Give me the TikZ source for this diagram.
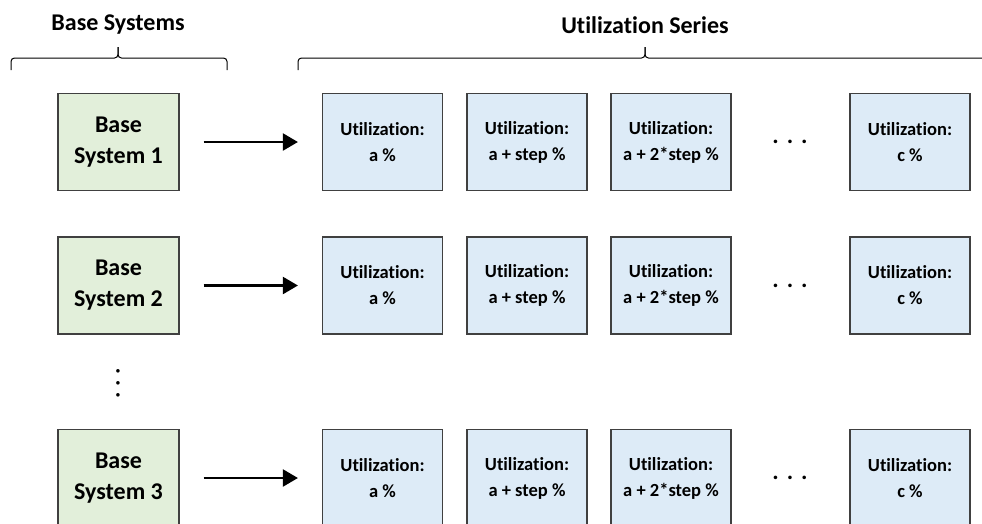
\documentclass[tikz,border=0pt]{standalone}
\usepackage{fontspec}
\setmainfont{Carlito}[Ligatures=NoCommon]
\usepackage{tikz}
\usetikzlibrary{positioning, arrows.meta}

\definecolor{basegreen}{HTML}{E2EFDA}
\definecolor{utilblue}{HTML}{DDEBF7}
\definecolor{boxline}{HTML}{404040}

\tikzset{
    basebox/.style={draw=boxline, line width=1.2pt, fill=basegreen, minimum width=121pt,
        minimum height=97pt, inner sep=0pt, align=center, font=\bfseries\fontsize{24}{31}\selectfont},
    utilbox/.style={draw=boxline, line width=1.2pt, fill=utilblue, minimum width=120pt,
        minimum height=97pt, inner sep=0pt, align=center, font=\bfseries\fontsize{18.5}{26}\selectfont},
    heading/.style={font=\bfseries\fontsize{24}{28}\selectfont},
    bracket/.style={draw=black, line width=1pt, rounded corners=3.5pt},
    dotsnode/.style={inner sep=0pt, font=\bfseries\fontsize{24}{28}\selectfont}
}

\begin{document}
\begin{tikzpicture}[x=1pt, y=-1pt]
    \useasboundingbox (0,0) rectangle (982,523);
    \clip (0,0) rectangle (982,523);

    % Headings
    \node (hbase) at (118, 25) [heading] {Base Systems};
    \node (hutil) at (645, 25) [heading] {Utilization Series};

    % braces
    \coordinate (bl) at (11, 70);
    \coordinate (bm) at (118, 47);
    \coordinate (br) at (227, 70);
    \coordinate (ul) at (298, 70);
    \coordinate (um) at (645, 47);
    \coordinate (ur) at (992, 70);
    \draw[bracket] (bl) |- ([yshift=-11pt]bm) -- (bm);
    \draw[bracket] (br) |- ([yshift=-11pt]bm) -- (bm);
    \draw[bracket] (ul) |- ([yshift=-11pt]um) -- (um);
    \draw[bracket] (ur) |- ([yshift=-11pt]um) -- (um);

    % Nodes
    \node (b1) at (118.5, 142) [basebox] {Base\\System 1};
    \node (b2) at (118.5, 285.5) [basebox] {Base\\System 2};
    \node (b3) at (118.5, 478) [basebox] {Base\\System 3};
    \node (vdots) at (118, 383) [dotsnode] {\rotatebox{90}{.\hspace{5.5pt}.\hspace{5.5pt}.}};

    \node (u11) at (382.5, 142) [utilbox] {Utilization:\\a \%};
    \node (u12) at (527, 142) [utilbox] {Utilization:\\a + step \%};
    \node (u13) at (671, 142) [utilbox] {Utilization:\\a + 2*step \%};
    \node (d1) at (790, 142) [dotsnode] {.\hspace{8pt}.\hspace{8pt}.};
    \node (u14) at (910, 142) [utilbox] {Utilization:\\c \%};

    \node (u21) at (382.5, 285.5) [utilbox] {Utilization:\\a \%};
    \node (u22) at (527, 285.5) [utilbox] {Utilization:\\a + step \%};
    \node (u23) at (671, 285.5) [utilbox] {Utilization:\\a + 2*step \%};
    \node (d2) at (790, 285.5) [dotsnode] {.\hspace{8pt}.\hspace{8pt}.};
    \node (u24) at (910, 285.5) [utilbox] {Utilization:\\c \%};

    \node (u31) at (382.5, 478) [utilbox] {Utilization:\\a \%};
    \node (u32) at (527, 478) [utilbox] {Utilization:\\a + step \%};
    \node (u33) at (671, 478) [utilbox] {Utilization:\\a + 2*step \%};
    \node (d3) at (790, 478) [dotsnode] {.\hspace{8pt}.\hspace{8pt}.};
    \node (u34) at (910, 478) [utilbox] {Utilization:\\c \%};

    % edges
    \draw[-{Triangle[length=15pt, width=17pt]}, line width=2.2pt, shorten <=24pt, shorten >=24pt]
        (b1) edge (u11)
        (b2) edge (u21)
        (b3) edge (u31);

\end{tikzpicture}
\end{document}
